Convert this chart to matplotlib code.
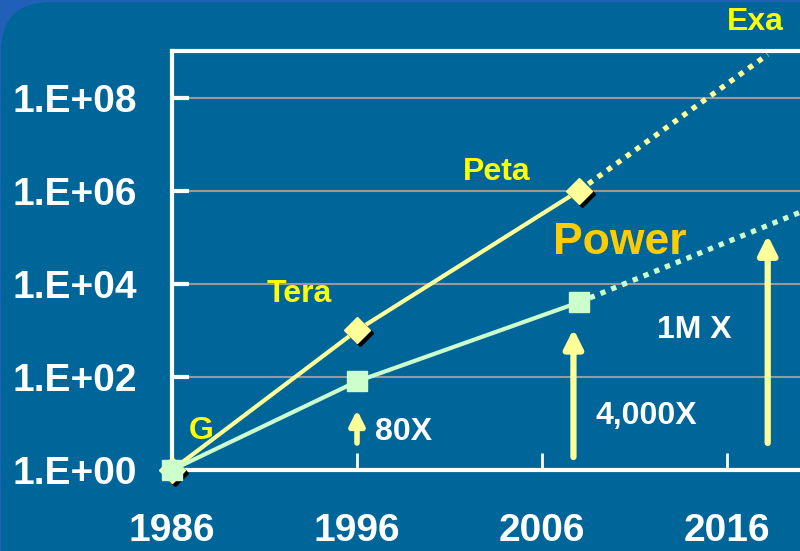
import matplotlib
matplotlib.use("Agg")
import matplotlib.pyplot as plt
import matplotlib.transforms as mtransforms
from matplotlib.patches import FancyBboxPatch
from matplotlib.ticker import FixedLocator, NullLocator

plt.rcParams['font.family'] = ['Liberation Sans', 'DejaVu Sans']
plt.rcParams['font.weight'] = 'bold'

# ---- data ----
perf_years = [1986, 1996, 2008]
perf_values = [1, 1e3, 1e6]
perf_proj_years = [2008, 2018.2]
perf_proj_values = [1e6, 8.4e8]

power_years = [1986, 1996, 2008]
power_values = [1, 80, 4000]
power_proj_years = [2008, 2020]
power_proj_values = [4000, 3.5e5]

x_ticks = [1986, 1996, 2006, 2016]
y_ticks = [1e0, 1e2, 1e4, 1e6, 1e8]
y_tick_labels = ['1.E+00', '1.E+02', '1.E+04', '1.E+06', '1.E+08']

BG = '#006699'
YELLOW = '#FFFF99'
GREEN = '#CCFFCC'
LABEL_YELLOW = '#FFFF00'
POWER_COLOR = '#FFCC00'

fig = plt.figure(figsize=(8, 5.51), dpi=100)
fig.patch.set_facecolor('#2060B8')
# rounded slide background
bgbox = FancyBboxPatch((1, -80), 900, 629, boxstyle='round,pad=0,rounding_size=50',
                       transform=None, facecolor=BG, edgecolor='none', zorder=0)
fig.patches.append(bgbox)

ax = fig.add_axes([172/800, 81/551, 36*18.5/800, 419/551])
ax.set_zorder(2)
ax.set_facecolor('none')
ax.set_yscale('log')
ax.set_xlim(1986, 2022)
ax.set_ylim(1, 1e9)

for side in ['left', 'bottom', 'top']:
    ax.spines[side].set_color('white')
    ax.spines[side].set_linewidth(3)
ax.spines['right'].set_visible(False)

ax.yaxis.set_major_locator(FixedLocator(y_ticks))
ax.yaxis.set_minor_locator(NullLocator())
ax.set_yticklabels(y_tick_labels)
ax.set_xticks(x_ticks)
ax.set_xticklabels([str(x) for x in x_ticks])
ax.tick_params(axis='y', direction='in', length=12, width=3, color='white',
               labelcolor='white', labelsize=28, pad=25)
ax.tick_params(axis='x', direction='in', length=12, width=2, color='white',
               labelcolor='white', labelsize=28, pad=31)
for lab in ax.get_xticklabels() + ax.get_yticklabels():
    lab.set_fontweight('bold')

ax.grid(axis='y', color='#999999', linewidth=1.5, zorder=1)
ax.set_axisbelow(True)

# lines
ax.plot(perf_years, perf_values, color=YELLOW, lw=3, zorder=3, solid_capstyle='butt')
ax.plot(perf_proj_years, perf_proj_values, color=YELLOW, lw=3.8, ls=(0, (1, 1.2)),
        dash_capstyle='butt', zorder=3)
ax.plot(power_years, power_values, color=GREEN, lw=3, zorder=3)
ax.plot(power_proj_years, power_proj_values, color=GREEN, lw=3.8, ls=(0, (1, 1.2)),
        dash_capstyle='butt', zorder=3)

# markers
shadow = mtransforms.offset_copy(ax.transData, fig=fig, x=3, y=-3, units='dots')
ax.plot(perf_years, perf_values, ls='none', marker='D', ms=13, color='black',
        mec='black', transform=shadow, zorder=4, clip_on=False)
ax.plot(perf_years, perf_values, ls='none', marker='D', ms=13, color=YELLOW,
        mec=YELLOW, zorder=5, clip_on=False)
ax.plot(power_years, power_values, ls='none', marker='s', ms=14, color=GREEN,
        mec=GREEN, zorder=6, clip_on=False)

# arrows
def arrow(x, y0, y1, lw, scale):
    ax.annotate('', xy=(x, y1), xytext=(x, y0),
                arrowprops=dict(arrowstyle='-|>', color=YELLOW, lw=lw,
                                mutation_scale=scale, shrinkA=0, shrinkB=0),
                zorder=5)

arrow(1996, 3.8, 19.5, 4, 22)
arrow(2007.7, 1.9, 1070, 4.5, 28)
arrow(2018.2, 3.8, 1.1e5, 4.5, 28)

# text
fs = 23
ax.text(1986.9, 6.9, 'G', color=LABEL_YELLOW, fontsize=fs, fontweight='bold', ha='left', va='center')
ax.text(1991.1, 10**3.78, 'Tera', color=LABEL_YELLOW, fontsize=fs, fontweight='bold', ha='left', va='center')
ax.text(2001.7, 10**6.41, 'Peta', color=LABEL_YELLOW, fontsize=fs, fontweight='bold', ha='left', va='center')
ax.text(2016.0, 10**9.63, 'Exa', color=LABEL_YELLOW, fontsize=fs, fontweight='bold', ha='left', va='center', clip_on=False)
ax.text(2006.6, 10**4.88, 'Power', color=POWER_COLOR, fontsize=32, fontweight='bold', ha='left', va='center')
ax.text(1997.0, 6.6, '80X', color='white', fontsize=fs, fontweight='bold', ha='left', va='center')
ax.text(2008.9, 14.5, '4,000X', color='white', fontsize=fs, fontweight='bold', ha='left', va='center')
ax.text(2012.2, 1020, '1M X', color='white', fontsize=fs, fontweight='bold', ha='left', va='center')

fig.savefig('out.png', dpi=100, facecolor=fig.get_facecolor())
